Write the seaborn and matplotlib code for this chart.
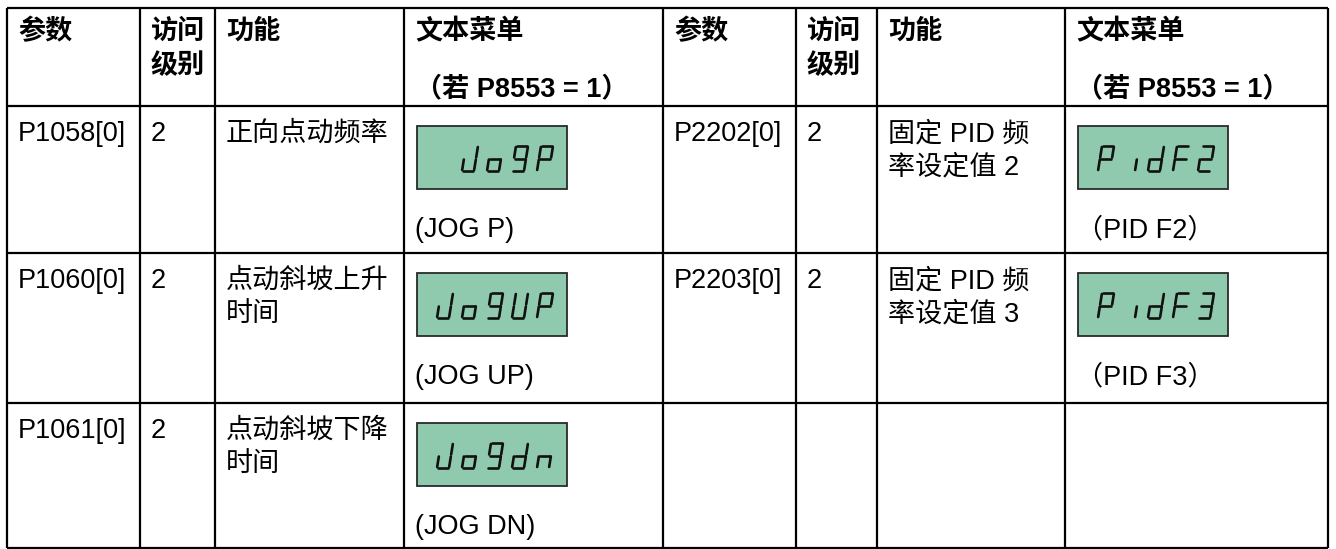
import matplotlib
matplotlib.use("Agg")
import matplotlib.pyplot as plt
import seaborn as sns
from matplotlib.patches import Rectangle

# Table content:
headers = ["参数", "访问\n级别", "功能", "文本菜单\n（若 P8553 = 1）"]

params_left = ["P1058[0]", "P1060[0]", "P1061[0]"]
levels_left = ["2", "2", "2"]
funcs_left = ["正向点动频率", "点动斜坡上升\n时间", "点动斜坡下降\n时间"]
lcd_left = [" JoGP", "JoGUP", "JoGdn"]
menu_left = ["(JOG P)", "(JOG UP)", "(JOG DN)"]

params_right = ["P2202[0]", "P2203[0]", ""]
levels_right = ["2", "2", ""]
funcs_right = ["固定 PID 频\n率设定值 2", "固定 PID 频\n率设定值 3", ""]
lcd_right = ["PidF2", "PidF3", ""]
menu_right = ["（PID F2）", "（PID F3）", ""]

# Seven segment display glyphs (segments a-g):
glyph_segments = {"J": "bcde", "o": "cdeg", "G": "abcdfg", "P": "abefg", "U": "bcdef",
                  "d": "bcdeg", "n": "ceg", "i": "c", "F": "aefg", "2": "abdeg", "3": "abcdg"}

sns.set_theme(style="white")
plt.rcParams["font.family"] = ["Liberation Sans", "Noto Sans CJK SC", "DejaVu Sans"]

fig = plt.figure(figsize=(13.36, 5.49), dpi=100)
ax = fig.add_axes([0, 0, 1, 1])
ax.set_xlim(0, 1336)
ax.set_ylim(549, 0)
ax.axis("off")

col_edges = [7, 140, 215, 404, 663, 796, 877, 1065, 1328]
row_edges = [8, 106, 253, 403, 548]
pad = 11
fs = 19.5
line_gap = 33
lcd_green = "#8fcaae"

# grid lines
ax.hlines(row_edges, col_edges[0], col_edges[-1], color="black", lw=1.6)
ax.vlines(col_edges, row_edges[0], row_edges[-1], color="black", lw=1.6)


def put_lines(x, top, text, bold=False, first=28, gap=line_gap):
    for i, line in enumerate(text.split("\n")):
        ax.text(x, top + first + gap * i, line, fontsize=fs, va="center", ha="left",
                fontweight="bold" if bold else "normal", color="black")


seg = {"a": ((0, 1), (1, 1)), "b": ((1, 1), (1, 0.5)), "c": ((1, 0.5), (1, 0)),
       "d": ((0, 0), (1, 0)), "e": ((0, 0.5), (0, 0)), "f": ((0, 1), (0, 0.5)),
       "g": ((0, 0.5), (1, 0.5))}


def draw_lcd(x, y, word):
    ax.add_patch(Rectangle((x, y), 150, 63, facecolor=lcd_green, edgecolor="#2a2a2a", lw=1.3))
    w, h, slant = 12, 25, 0.16
    base = y + 45
    for k, ch in enumerate(word):
        if ch == " ":
            continue
        x0 = x + 20 + 25 * k
        for s in glyph_segments[ch]:
            (u0, v0), (u1, v1) = seg[s]
            # small gap at each end of a segment
            du, dv = (u1 - u0) * 0.08, (v1 - v0) * 0.08
            pts = [(u0 + du, v0 + dv), (u1 - du, v1 - dv)]
            xs = [x0 + u * w + v * h * slant for u, v in pts]
            ys = [base - v * h for u, v in pts]
            ax.plot(xs, ys, color="#111111", lw=1.9, solid_capstyle="round")


# header row
for half in (0, 4):
    for j, head in enumerate(headers):
        gap = 57 if j == 3 else 34
        put_lines(col_edges[half + j] + pad, row_edges[0], head, bold=True, first=24, gap=gap)

# body rows
sides = [(0, params_left, levels_left, funcs_left, lcd_left, menu_left),
         (4, params_right, levels_right, funcs_right, lcd_right, menu_right)]
for off, params, levels, funcs, lcds, menus in sides:
    for r in range(3):
        top = row_edges[r + 1]
        put_lines(col_edges[off] + pad, top, params[r])
        put_lines(col_edges[off + 1] + pad, top, levels[r])
        put_lines(col_edges[off + 2] + pad, top, funcs[r])
        if lcds[r]:
            draw_lcd(col_edges[off + 3] + 13, top + 20, lcds[r])
            ax.text(col_edges[off + 3] + pad, top + 124, menus[r], fontsize=fs,
                    va="center", ha="left", color="black")

fig.savefig("out.png", dpi=100, facecolor="white")
